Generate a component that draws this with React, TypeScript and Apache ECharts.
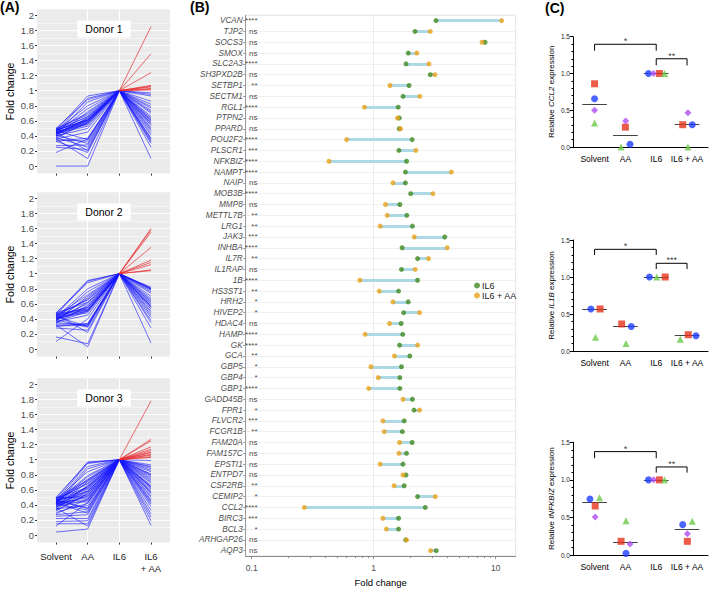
import React, { useEffect, useRef } from 'react';
import * as echarts from 'echarts';

const FONT = '"Liberation Sans", Arial, Helvetica, sans-serif';

// ---------------- Panel A data ----------------
const aCategories = ['Solvent', 'AA', 'IL6', 'IL6\n+ AA'];
const donorNames = ['Donor 1', 'Donor 2', 'Donor 3'];
const yTicksA = [0, 0.2, 0.4, 0.6, 0.8, 1, 1.2, 1.4, 1.6, 1.8, 2];

const d1Solvent = [0.48,0.45,0.50,0.42,0.47,0.44,0.40,0.49,0.46,0.43,0.41,0.48,0.45,0.39,0.44,0.47,0.42,0.50,0.37,0.46,0.43,0.40,0.48,0.36,0.44,0.33,0.47,0.35,0.41,0.27,0.38,0.25,0.45,0.33,0.18,0.36,0.00,0.42,0.49,0.44];
const d1AA = [0.93,0.90,0.88,0.85,0.80,0.76,0.72,0.70,0.66,0.63,0.61,0.60,0.58,0.57,0.55,0.62,0.64,0.68,0.59,0.56,0.53,0.50,0.61,0.45,0.60,0.37,0.35,0.33,0.30,0.28,0.25,0.22,0.20,0.18,0.36,0.10,0.00,0.58,0.65,0.61];
const d1Combo = [1.85,1.49,1.24,1.07,1.06,1.05,1.03,1.02,1.01,0.97,0.95,0.93,0.86,0.82,0.79,0.77,0.74,0.72,0.66,0.64,0.61,0.60,0.57,0.54,0.51,0.49,0.47,0.44,0.41,0.37,0.36,0.34,0.32,0.30,0.25,0.55,0.10,0.62,0.70,0.58];

const d2Solvent = [0.47,0.45,0.48,0.42,0.40,0.44,0.39,0.46,0.41,0.43,0.38,0.47,0.45,0.40,0.42,0.36,0.48,0.34,0.44,0.37,0.33,0.35,0.31,0.43,0.30,0.39,0.28,0.46,0.16,0.10,0.32,0.41,0.45,0.38,0.36,0.42];
const d2AA = [0.91,0.90,0.88,0.80,0.76,0.72,0.68,0.65,0.60,0.56,0.55,0.53,0.52,0.51,0.50,0.50,0.62,0.58,0.66,0.70,0.33,0.32,0.31,0.30,0.34,0.29,0.25,0.22,0.07,0.40,0.03,0.48,0.55,0.62,0.45,0.52];
const d2Combo = [1.60,1.58,1.55,1.35,1.18,1.15,1.12,1.05,1.04,0.82,0.81,0.80,0.79,0.78,0.76,0.74,0.70,0.67,0.65,0.62,0.60,0.57,0.55,0.53,0.50,0.48,0.45,0.42,0.38,0.35,0.28,0.56,0.80,0.08,0.58,0.63];

const d3Solvent = [0.48,0.45,0.50,0.42,0.47,0.44,0.40,0.49,0.46,0.43,0.41,0.38,0.45,0.36,0.44,0.47,0.42,0.50,0.37,0.46,0.43,0.40,0.48,0.35,0.44,0.33,0.47,0.30,0.41,0.27,0.38,0.25,0.45,0.22,0.39,0.18,0.42,0.15,0.36,0.12,0.04,0.32,0.49,0.28,0.46,0.43,0.40,0.34];
const d3AA = [0.97,0.95,0.96,0.91,0.84,0.79,0.88,0.73,0.69,0.77,0.64,0.71,0.58,0.66,0.61,0.53,0.74,0.49,0.57,0.62,0.44,0.51,0.68,0.39,0.47,0.55,0.35,0.42,0.59,0.31,0.46,0.27,0.36,0.22,0.52,0.19,0.33,0.15,0.12,0.43,0.08,0.55,0.63,0.48,0.72,0.29,0.58,0.65];
const d3Combo = [1.78,1.27,1.25,1.17,1.14,1.12,1.10,1.09,1.07,1.06,1.04,1.03,0.99,0.93,0.91,0.86,0.90,0.84,0.81,0.79,0.75,0.77,0.71,0.73,0.66,0.69,0.64,0.61,0.63,0.57,0.59,0.52,0.55,0.47,0.50,0.43,0.45,0.38,0.41,0.33,0.28,0.24,0.19,0.13,0.88,0.64,0.80,0.56];

// ---------------- Panel B data ----------------
const genes = ['VCAN','TJP2','SOCS3','SMOX','SLC2A3','SH3PXD2B','SETBP1','SECTM1','RGL1','PTPN2','PPARD','POU2F2','PLSCR1','NFKBIZ','NAMPT','NAIP','MOB3B','MMP8','METTL7B','LRG1','JAK3','INHBA','IL7R','IL1RAP','1B','HS3ST1','HRH2','HIVEP2','HDAC4','HAMP','GK','GCA','GBP5','GBP4','GBP1','GADD45B','FPR1','FLVCR2','FCGR1B','FAM20A','FAM157C','EPSTI1','ENTPD7','CSF2RB','CEMIP2','CCL2','BIRC3','BCL3','ARHGAP26','AQP3'];
const il6Fold = [3.24,2.18,8.19,1.92,1.84,2.91,1.95,1.74,1.59,1.62,1.62,2.07,1.61,1.86,1.82,1.82,2.01,1.64,1.87,2.08,3.83,1.71,2.29,1.69,2.29,1.60,1.92,1.76,1.68,1.73,1.63,1.98,1.69,1.64,1.64,2.08,2.14,1.78,1.72,2.07,1.86,1.74,1.84,1.78,2.29,2.65,1.60,1.60,1.83,3.26];
const il6AAFold = [11.2,2.91,7.74,2.26,2.84,3.18,1.36,2.39,0.84,1.57,1.66,0.60,2.22,0.43,4.34,1.44,3.06,1.25,1.29,1.13,2.15,4.01,2.82,2.19,0.77,1.11,1.44,2.38,1.35,0.85,2.29,1.48,0.95,1.09,0.91,1.74,2.38,1.19,1.22,1.63,1.61,1.13,1.74,1.47,3.20,0.27,1.19,1.27,1.86,2.93];
const significance = ['****','ns','ns','ns','****','ns','**','ns','****','ns','ns','****','***','****','****','ns','****','ns','**','**','***','****','**','ns','****','**','*','*','ns','****','****','**','*','*','****','ns','*','***','**','ns','ns','ns','ns','**','*','****','***','*','ns','ns'];
const bTicks = [0.1, 1, 10];
const bMinorTicks = [0.2,0.3,0.4,0.5,0.6,0.7,0.8,0.9,2,3,4,5,6,7,8,9];

// ---------------- Panel C data ----------------
const cCategories = ['Solvent', 'AA', 'IL6', 'IL6 + AA'];
const cTargets = ['CCL2', 'IL1B', 'INFKBIZ'];
const ccl2Circle = [0.656, 0.037, 1.0, 0.303];
const ccl2Square = [0.86, 0.27, 1.0, 0.303];
const ccl2Triangle = [0.326, 0.0, 1.0, 0.0];
const ccl2Diamond = [0.50, 0.353, 1.0, 0.466];
const il1bCircle = [0.568, 0.33, 1.0, 0.207];
const il1bSquare = [0.568, 0.365, 1.0, 0.22];
const il1bTriangle = [0.185, 0.10, 1.0, 0.16];
const nfkbizCircle = [0.746, 0.022, 1.0, 0.404];
const nfkbizSquare = [0.652, 0.182, 1.0, 0.182];
const nfkbizTriangle = [0.763, 0.457, 1.0, 0.449];
const nfkbizDiamond = [0.506, 0.146, 1.0, 0.284];
const ccl2Stars = ['*', '**'];
const il1bStars = ['*', '***'];
const nfkbizStars = ['*', '**'];

// ---------------- layout / style ----------------
const BLUE_A = '#1414ff';
const RED_A = '#e8262b';
const GREEN_B = '#3f8a1f';
const ORANGE_B = '#e8a21a';
const C_COLORS = { circle: '#1f3dff', square: '#e5331c', triangle: '#6cc947', diamond: '#b04cf2' };
const INVISIBLE = 'rgba(0,0,0,0)';

const median = (arr: number[]) => {
  const s = [...arr].sort((a, b) => a - b);
  const n = s.length;
  return n % 2 ? s[(n - 1) / 2] : (s[n / 2 - 1] + s[n / 2]) / 2;
};

function buildOption() {
  const donors = [
    [d1Solvent, d1AA, d1Combo],
    [d2Solvent, d2AA, d2Combo],
    [d3Solvent, d3AA, d3Combo],
  ];
  const aTops = [9.3, 192.3, 378.3];
  const cTops = [36.7, 240, 442.3];
  const cHeights = [110.3, 111, 112.7];

  const grid: any[] = [];
  const xAxis: any[] = [];
  const yAxis: any[] = [];
  const series: any[] = [];
  const graphic: any[] = [];

  // ---- Panel A ----
  aTops.forEach((top, d) => {
    grid.push({ left: 37, top, width: 133, height: 164.3, show: true, backgroundColor: '#EBEBEB', borderWidth: 0 });
    xAxis.push({
      gridIndex: d, type: 'value', min: -0.6, max: 3.6, splitNumber: 4,
      axisLine: { show: false, onZero: false },
      axisTick: { show: true, length: 2, customValues: [0, 1, 2, 3], lineStyle: { color: '#333' } },
      axisLabel: {
        show: d === 2, customValues: [0, 1, 2, 3],
        formatter: (v: number) => aCategories[Math.round(v)] ?? '',
        margin: 8, fontSize: 9.5, color: '#1a1a1a', lineHeight: 12, fontFamily: FONT,
      },
      splitLine: { show: true, showMinLine: false, showMaxLine: false, lineStyle: { color: '#ffffff', width: 1 } },
    });
    yAxis.push({
      gridIndex: d, type: 'value', min: -0.1, max: 2.08, splitNumber: 10,
      axisLine: { show: false, onZero: false },
      axisTick: { show: true, length: 2, customValues: yTicksA, lineStyle: { color: '#333' } },
      axisLabel: {
        customValues: yTicksA,
        formatter: (v: number) => String(Math.round(v * 10) / 10),
        fontSize: 9.5, color: '#4d4d4d', margin: 3, fontFamily: FONT,
      },
      splitLine: { show: true, showMinLine: false, showMaxLine: false, lineStyle: { color: '#ffffff', width: 1 } },
      minorTick: { show: false, splitNumber: 2 },
      minorSplitLine: { show: true, lineStyle: { color: '#ffffff', width: 0.5 } },
      name: 'Fold change', nameLocation: 'middle', nameGap: 22,
      nameTextStyle: { fontSize: 10.5, color: '#000', fontFamily: FONT },
    });
    const [sol, aa, combo] = donors[d];
    series.push({
      type: 'lines', coordinateSystem: 'cartesian2d', xAxisIndex: d, yAxisIndex: d,
      polyline: true, silent: true,
      lineStyle: { color: BLUE_A, width: 0.8, opacity: 0.75 },
      data: sol.map((s, i) => ({ coords: [[0, s], [1, aa[i]], [2, 1]] })),
    });
    series.push({
      type: 'lines', coordinateSystem: 'cartesian2d', xAxisIndex: d, yAxisIndex: d,
      silent: true,
      lineStyle: { color: BLUE_A, width: 0.8, opacity: 0.75 },
      data: combo.filter((c) => c <= 1).map((c) => ({ coords: [[2, 1], [3, c]] })),
    });
    series.push({
      type: 'lines', coordinateSystem: 'cartesian2d', xAxisIndex: d, yAxisIndex: d,
      silent: true,
      lineStyle: { color: RED_A, width: 0.8, opacity: 0.85 },
      data: combo.filter((c) => c > 1).map((c) => ({ coords: [[2, 1], [3, c]] })),
    });
    graphic.push({
      type: 'text', x: 104, y: top + 19.7, z: 100,
      style: {
        text: donorNames[d], fontSize: 10.5, fontFamily: FONT, fill: '#000',
        align: 'center', verticalAlign: 'middle', backgroundColor: '#ffffff', padding: [3, 8],
      },
    });
  });

  // ---- Panel B ----
  const bIdx = genes.map((_, i) => i);
  grid.push({ left: 245.7, top: 15.2, width: 270, height: 550, show: true, borderColor: '#e2e2e2', borderWidth: 1, backgroundColor: 'transparent' });
  xAxis.push({
    gridIndex: 3, type: 'log', logBase: 10, min: 0.0893, max: 14.6,
    axisLine: { show: true, onZero: false, lineStyle: { color: '#8a8a8a' } },
    axisTick: { show: true, length: 3, customValues: bTicks, lineStyle: { color: '#8a8a8a' } },
    axisLabel: {
      customValues: bTicks, formatter: (v: number) => String(Number(v.toPrecision(3))),
      fontSize: 8.5, color: '#4d4d4d', margin: 7, fontFamily: FONT,
    },
    splitLine: { show: true, showMinLine: false, showMaxLine: false, lineStyle: { color: '#ebebeb' } },
    name: 'Fold change', nameLocation: 'middle', nameGap: 19,
    nameTextStyle: { fontSize: 9.5, color: '#000', fontFamily: FONT },
  });
  yAxis.push({
    gridIndex: 3, type: 'value', min: -0.5, max: 49.5, inverse: true, splitNumber: 50,
    axisLine: { show: true, onZero: false, lineStyle: { color: '#9a9a9a' } },
    axisTick: { show: true, length: 2.5, customValues: bIdx, lineStyle: { color: '#9a9a9a' } },
    axisLabel: {
      customValues: bIdx, formatter: (v: number) => genes[Math.round(v)] ?? '',
      fontSize: 8.2, fontStyle: 'italic', color: '#4d4d4d', margin: 3, fontFamily: FONT,
    },
    splitLine: { show: true, showMinLine: false, showMaxLine: false, lineStyle: { color: '#f0f0f0' } },
  });
  series.push({
    type: 'lines', coordinateSystem: 'cartesian2d', xAxisIndex: 3, yAxisIndex: 3, silent: true,
    lineStyle: { color: '#add8e6', width: 3, opacity: 1, cap: 'butt' },
    data: genes.map((_, i) => ({ coords: [[il6Fold[i], i], [il6AAFold[i], i]] })),
  });
  series.push({
    name: 'IL6', type: 'scatter', xAxisIndex: 3, yAxisIndex: 3, symbolSize: 5,
    itemStyle: { color: GREEN_B }, data: genes.map((_, i) => [il6Fold[i], i]), clip: false,
  });
  series.push({
    name: 'IL6 + AA', type: 'scatter', xAxisIndex: 3, yAxisIndex: 3, symbolSize: 5,
    itemStyle: { color: ORANGE_B }, data: genes.map((_, i) => [il6AAFold[i], i]), clip: false,
  });
  series.push({
    type: 'scatter', xAxisIndex: 3, yAxisIndex: 3, symbolSize: 1, silent: true, clip: false,
    itemStyle: { color: INVISIBLE },
    label: {
      show: true, position: 'left', distance: 0,
      formatter: (p: any) => significance[p.dataIndex],
      fontSize: 8, color: '#111', fontFamily: FONT,
    },
    labelLayout: { hideOverlap: false },
    data: genes.map((_, i) => [0.1127, i]),
  });

  // ---- Panel C ----
  const cShapes = [
    [
      { key: 'circle', symbol: 'circle', size: 7, values: ccl2Circle, jitter: [0, 0.15, -0.25, 0.17] },
      { key: 'square', symbol: 'rect', size: 7, values: ccl2Square, jitter: [0, 0, 0.10, -0.14] },
      { key: 'triangle', symbol: 'triangle', size: 7, values: ccl2Triangle, jitter: [0, -0.14, 0.27, 0.03] },
      { key: 'diamond', symbol: 'diamond', size: 7, values: ccl2Diamond, jitter: [0, 0.01, -0.09, 0.03] },
    ],
    [
      { key: 'circle', symbol: 'circle', size: 7, values: il1bCircle, jitter: [-0.12, 0.19, -0.22, 0.29] },
      { key: 'square', symbol: 'rect', size: 7, values: il1bSquare, jitter: [0.18, -0.12, 0.29, 0.04] },
      { key: 'triangle', symbol: 'triangle', size: 7, values: il1bTriangle, jitter: [0.03, 0.02, 0.02, -0.22] },
    ],
    [
      { key: 'circle', symbol: 'circle', size: 7, values: nfkbizCircle, jitter: [-0.15, 0.02, -0.25, -0.14] },
      { key: 'square', symbol: 'rect', size: 7, values: nfkbizSquare, jitter: [0.02, -0.14, 0.10, 0.01] },
      { key: 'triangle', symbol: 'triangle', size: 7, values: nfkbizTriangle, jitter: [0.16, 0.02, 0.27, 0.17] },
      { key: 'diamond', symbol: 'diamond', size: 7, values: nfkbizDiamond, jitter: [0.02, 0.15, -0.09, 0.01] },
    ],
  ];
  const cStars = [ccl2Stars, il1bStars, nfkbizStars];
  const bracketPairs = [[0, 2], [2, 3]];
  const bracketHeights = [
    [[1.397, 1.31], [1.20, 1.11]],
    [[1.374, 1.297], [1.185, 1.108]],
    [[1.376, 1.288], [1.172, 1.096]],
  ];

  cTops.forEach((top, p) => {
    const gi = 4 + p;
    grid.push({ left: 573, top, width: 135, height: cHeights[p] });
    xAxis.push({
      gridIndex: gi, type: 'value', min: -0.7, max: 3.68, splitNumber: 4,
      axisLine: { show: true, onZero: false, lineStyle: { color: '#000', width: 1 } },
      axisTick: { show: false },
      axisLabel: {
        customValues: [0, 1, 2, 3], formatter: (v: number) => cCategories[Math.round(v)] ?? '',
        fontSize: 8.5, color: '#000', margin: 7, fontFamily: FONT,
      },
      splitLine: { show: false },
    });
    yAxis.push({
      gridIndex: gi, type: 'value', min: 0, max: 1.5, interval: 0.5,
      axisLine: { show: true, onZero: false, lineStyle: { color: '#000', width: 1 } },
      axisTick: { show: true, length: 3, lineStyle: { color: '#000' } },
      minorTick: { show: true, splitNumber: 5, length: 1.5, lineStyle: { color: '#000' } },
      axisLabel: { formatter: (v: number) => v.toFixed(1), fontSize: 6.5, color: '#222', margin: 3, fontFamily: FONT },
      splitLine: { show: false },
      name: `{n|Relative }{i|${cTargets[p]}}{n| expression}`,
      nameLocation: 'middle', nameGap: 18,
      nameTextStyle: {
        fontFamily: FONT,
        rich: {
          n: { fontSize: 8, color: '#000', fontFamily: FONT },
          i: { fontSize: 8, color: '#000', fontStyle: 'italic', fontFamily: FONT },
        },
      },
    });
    const shapes = cShapes[p];
    const meds = [0, 1, 2, 3].map((g) => median(shapes.map((s) => s.values[g])));
    series.push({
      type: 'lines', coordinateSystem: 'cartesian2d', xAxisIndex: gi, yAxisIndex: gi, silent: true,
      lineStyle: { color: '#444', width: 1, opacity: 1 },
      data: meds.map((m, g) => ({ coords: [[g - 0.4, m], [g + 0.4, m]] })),
    });
    shapes.forEach((s) => {
      series.push({
        type: 'scatter', xAxisIndex: gi, yAxisIndex: gi, symbol: s.symbol, symbolSize: s.size,
        itemStyle: { color: (C_COLORS as any)[s.key] }, clip: false, silent: true,
        data: s.values.map((v, g) => [g + s.jitter[g], v]),
      });
    });
    series.push({
      type: 'lines', coordinateSystem: 'cartesian2d', xAxisIndex: gi, yAxisIndex: gi, silent: true,
      polyline: true, lineStyle: { color: '#000', width: 1, opacity: 1 },
      data: bracketPairs.map(([a, b], k) => {
        const [hTop, hEnd] = bracketHeights[p][k];
        return { coords: [[a, hEnd], [a, hTop], [b, hTop], [b, hEnd]] };
      }),
    });
    series.push({
      type: 'scatter', xAxisIndex: gi, yAxisIndex: gi, symbolSize: 1, silent: true, clip: false,
      itemStyle: { color: INVISIBLE },
      label: {
        show: true, position: 'top', distance: -2,
        formatter: (q: any) => cStars[p][q.dataIndex], fontSize: 9, color: '#000', fontFamily: FONT,
      },
      labelLayout: { hideOverlap: false },
      data: bracketPairs.map(([a, b], k) => [(a + b) / 2, bracketHeights[p][k][0]]),
    });
  });

  // minor log ticks for panel B
  xAxis.push({
    gridIndex: 3, type: 'log', logBase: 10, min: 0.0893, max: 14.6, position: 'bottom',
    axisLine: { show: false, onZero: false },
    axisTick: { show: true, length: 2, customValues: bMinorTicks, lineStyle: { color: '#8a8a8a' } },
    axisLabel: { show: false },
    splitLine: { show: false },
  });

  graphic.push(
    { type: 'text', x: 0, y: 0, style: { text: '(A)', fontSize: 14, fontWeight: 'bold', fontFamily: FONT, fill: '#000' } },
    { type: 'text', x: 190, y: 0, style: { text: '(B)', fontSize: 14, fontWeight: 'bold', fontFamily: FONT, fill: '#000' } },
    { type: 'text', x: 545, y: 1, style: { text: '(C)', fontSize: 14, fontWeight: 'bold', fontFamily: FONT, fill: '#000' } },
  );

  return {
    animation: false,
    backgroundColor: '#ffffff',
    textStyle: { fontFamily: FONT },
    legend: {
      data: ['IL6', 'IL6 + AA'], orient: 'vertical', left: 474, top: 281,
      itemWidth: 6, itemHeight: 6, itemGap: 1, padding: 0, icon: 'circle',
      backgroundColor: 'transparent',
      textStyle: { fontSize: 9, color: '#1a1a1a', fontFamily: FONT, padding: [0, 0, 0, -3] },
    },
    grid, xAxis, yAxis, series, graphic,
  };
}

export default function App() {
  const ref = useRef<HTMLDivElement>(null);
  useEffect(() => {
    const chart = echarts.init(ref.current!, null, { renderer: 'svg' });
    chart.setOption(buildOption() as any);
    return () => chart.dispose();
  }, []);
  return (
    <div
      ref={ref}
      style={{ position: 'absolute', left: 0, top: 0, width: 709, height: 592, background: '#fff' }}
    />
  );
}
